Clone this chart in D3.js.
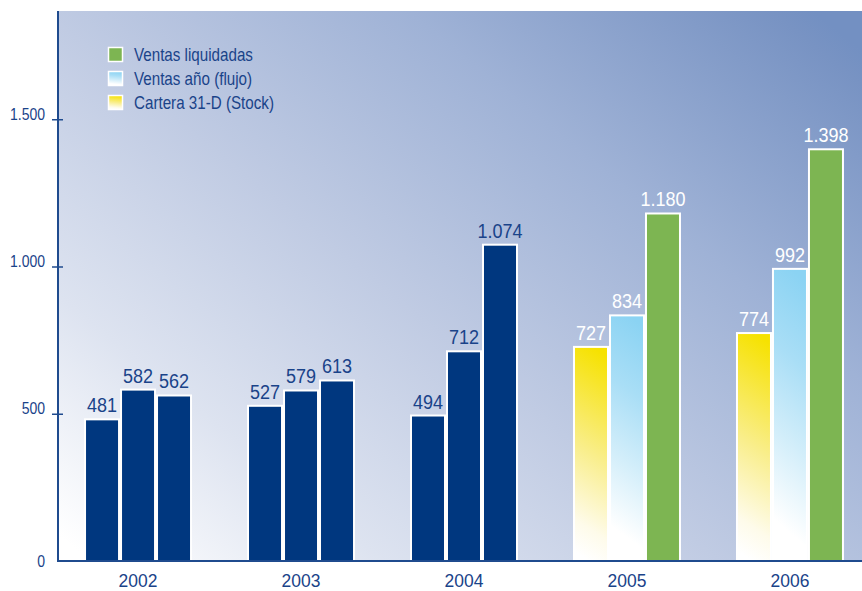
<!DOCTYPE html>
<html>
<head>
<meta charset="utf-8">
<script src="https://cdn.jsdelivr.net/npm/d3@7"></script>
<style>
  html, body { margin: 0; padding: 0; background: #ffffff; }
  svg { display: block; }
  text { font-family: "Liberation Sans", Arial, sans-serif; }
</style>
</head>
<body>
<svg id="chart" width="862" height="591"></svg>
<script>
// Years and the three series (Cartera, Ventas año, Ventas liquidadas)
const years = ["2002", "2003", "2004", "2005", "2006"];
const cartera = [481, 527, 494, 727, 774];
const ventasAno = [582, 579, 712, 834, 992];
const ventasLiquidadas = [562, 613, 1074, 1180, 1398];
const yTicks = [0, 500, 1000, 1500];
const coloredYears = ["2005", "2006"];

const seriesKeys = ["cartera", "ventasAno", "ventasLiquidadas"];
const seriesNames = {
  cartera: "Cartera 31-D (Stock)",
  ventasAno: "Ventas año (flujo)",
  ventasLiquidadas: "Ventas liquidadas"
};
const seriesValues = { cartera, ventasAno, ventasLiquidadas };
const legendOrder = ["ventasLiquidadas", "ventasAno", "cartera"];

const navy = "#00377f";
const axisColor = "#1f4b8e";
const textColor = "#1a4389";

const es = d3.formatLocale({ decimal: ",", thousands: ".", grouping: [3], currency: ["", "€"] });
const fmt = es.format(",");

// Squeeze a text horizontally to get a condensed face from a regular one
function condense(sel, factor) {
  sel.each(function () {
    const w = this.getComputedTextLength();
    d3.select(this)
      .attr("textLength", w * factor)
      .attr("lengthAdjust", "spacingAndGlyphs");
  });
}

const svg = d3.select("#chart");
const defs = svg.append("defs");

// Plot area frame
const plot = { left: 58, right: 862, top: 11, bottom: 561 };

// Diagonal background wash: white at lower left, blue at upper right
const bg = defs.append("linearGradient")
  .attr("id", "bgGrad")
  .attr("gradientUnits", "userSpaceOnUse")
  .attr("x1", 100).attr("y1", 569)
  .attr("x2", 657).attr("y2", -116);
[[0, "#ffffff"], [0.21, "#dde3f0"], [0.45, "#c0cbe3"], [0.71, "#9fb2d6"], [0.97, "#7893c3"], [1, "#7390c2"]]
  .forEach(([o, c]) => bg.append("stop").attr("offset", o).attr("stop-color", c));

// Bar fills
const yellow = defs.append("linearGradient").attr("id", "gradYellow")
  .attr("x1", 0.55).attr("y1", 0).attr("x2", 0.45).attr("y2", 1);
[[0, "#f6e200"], [0.15, "#f7e52a"], [0.5, "#f9ee8c"], [0.85, "#fefbea"], [1, "#ffffff"]]
  .forEach(([o, c]) => yellow.append("stop").attr("offset", o).attr("stop-color", c));

const blue = defs.append("linearGradient").attr("id", "gradBlue")
  .attr("x1", 0.55).attr("y1", 0).attr("x2", 0.45).attr("y2", 1);
[[0, "#8bd3f3"], [0.3, "#a9def6"], [0.6, "#d3eefa"], [0.9, "#ffffff"], [1, "#ffffff"]]
  .forEach(([o, c]) => blue.append("stop").attr("offset", o).attr("stop-color", c));

const seriesFill = {
  cartera: "url(#gradYellow)",
  ventasAno: "url(#gradBlue)",
  ventasLiquidadas: "#7db552"
};

svg.append("rect")
  .attr("x", plot.left).attr("y", plot.top)
  .attr("width", plot.right - plot.left).attr("height", plot.bottom - plot.top)
  .attr("fill", "url(#bgGrad)");

// Scales
const x = d3.scaleBand()
  .domain(years)
  .range([56, 872])
  .paddingInner(0.3374)
  .paddingOuter(0.172);

const xs = d3.scaleBand()
  .domain(seriesKeys)
  .range([0, x.bandwidth()]);

const y = d3.scaleLinear()
  .domain([0, 1500])
  .range([plot.bottom, plot.bottom - 0.2945 * 1500]);

// Bars
const rows = years.map((yr, i) => ({
  year: yr,
  values: seriesKeys.map(k => ({ key: k, value: seriesValues[k][i], colored: coloredYears.includes(yr) }))
}));

const groups = svg.append("g").selectAll("g")
  .data(rows)
  .join("g")
  .attr("transform", d => `translate(${x(d.year)},0)`);

groups.selectAll("rect")
  .data(d => d.values)
  .join("rect")
  .attr("x", d => xs(d.key) + 1)
  .attr("width", xs.bandwidth() - 2)
  .attr("y", d => y(d.value))
  .attr("height", d => y(0) - y(d.value))
  .attr("fill", d => d.colored ? seriesFill[d.key] : navy)
  .attr("stroke", "#ffffff")
  .attr("stroke-width", 2);

groups.selectAll("text")
  .data(d => d.values)
  .join("text")
  .attr("x", d => xs(d.key) + xs.bandwidth() / 2)
  .attr("y", d => y(d.value) - 7)
  .attr("text-anchor", "middle")
  .attr("font-size", 20)
  .attr("fill", d => d.colored ? "#ffffff" : textColor)
  .text(d => fmt(d.value))
  .call(condense, 0.9);

// Axes
const axisG = svg.append("g");
axisG.append("line")
  .attr("x1", plot.left).attr("x2", plot.left)
  .attr("y1", plot.top).attr("y2", plot.bottom + 1)
  .attr("stroke", axisColor).attr("stroke-width", 2);
axisG.append("line")
  .attr("x1", plot.left - 1).attr("x2", plot.right)
  .attr("y1", plot.bottom).attr("y2", plot.bottom)
  .attr("stroke", axisColor).attr("stroke-width", 2);

const yAxis = d3.axisLeft(y)
  .tickValues(yTicks)
  .tickFormat(fmt)
  .tickSize(0)
  .tickPadding(13);

const yAxisG = svg.append("g")
  .attr("transform", `translate(${plot.left},0)`)
  .call(yAxis);
yAxisG.select(".domain").remove();
yAxisG.selectAll(".tick text")
  .attr("font-family", null)
  .attr("font-size", 16)
  .attr("fill", textColor)
  .attr("dy", d => d === 0 ? "0.35em" : "0em")
  .call(condense, 0.875);
yAxisG.selectAll(".tick")
  .filter(d => d !== 0)
  .append("line")
  .attr("x1", -6).attr("x2", 5)
  .attr("stroke", axisColor).attr("stroke-width", 1.5);

const xAxis = d3.axisBottom(x).tickSize(0).tickPadding(13);
const xAxisG = svg.append("g")
  .attr("transform", `translate(0,${plot.bottom})`)
  .call(xAxis);
xAxisG.select(".domain").remove();
xAxisG.selectAll(".tick text")
  .attr("font-family", null)
  .attr("font-size", 18)
  .attr("fill", textColor)
  .call(condense, 0.97);

// Legend
const legend = svg.append("g").attr("transform", "translate(108,47)");
const item = legend.selectAll("g")
  .data(legendOrder)
  .join("g")
  .attr("transform", (d, i) => `translate(0,${i * 24})`);
item.append("rect")
  .attr("x", 0.5).attr("y", 0.5)
  .attr("width", 14).attr("height", 14)
  .attr("fill", d => seriesFill[d])
  .attr("stroke", "#ffffff").attr("stroke-width", 1.5);
item.append("text")
  .attr("x", 26).attr("y", 14)
  .attr("font-size", 18.5)
  .attr("fill", textColor)
  .text(d => seriesNames[d])
  .call(condense, 0.82);
</script>
</body>
</html>
